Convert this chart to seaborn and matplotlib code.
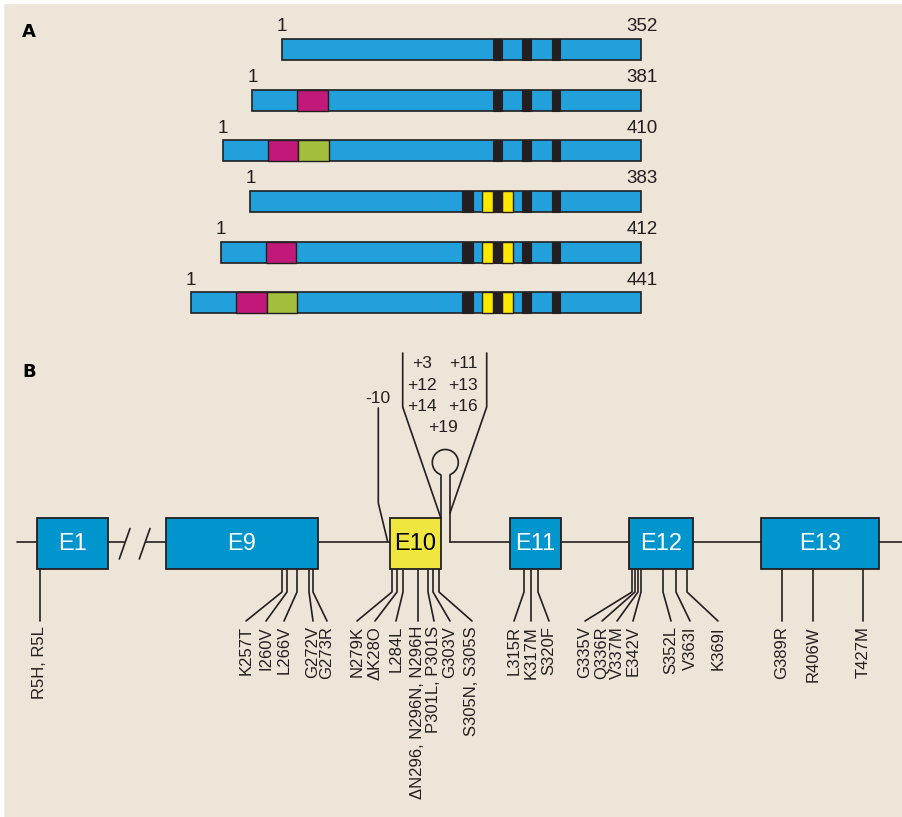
import numpy as np
import pandas as pd
import matplotlib
matplotlib.use("Agg")
import matplotlib.pyplot as plt
from matplotlib.patches import Arc, Rectangle
import seaborn as sns

# ---- panel A: tau isoforms ----
isoforms = ["0N3R", "1N3R", "2N3R", "0N4R", "1N4R", "2N4R"]
lengths = [352, 381, 410, 383, 412, 441]
n_inserts = [0, 1, 2, 0, 1, 2]
n_repeats = [3, 3, 3, 4, 4, 4]
# N-terminal inserts, residues counted from the N-terminus
exon2 = (44, 74)
exon3 = (74, 104)
# repeat separators and exon 10 region, residues counted back from the C-terminus
bands_3r = [(79, 87), (108, 117), (136, 145)]
band_r1 = (165, 175)
exon10_parts = [(125, 136), (145, 156)]

# ---- panel B: MAPT exons and mutations ----
exon_names = ["E1", "E9", "E10", "E11", "E12", "E13"]
exon_start = [37, 166, 390, 510, 629, 761]
exon_end = [108, 318, 441, 561, 693, 879]
mut_labels = ["R5H, R5L", "K257T", "I260V", "L266V", "G272V", "G273R",
              "N279K", "ΔK28O", "L284L", "ΔN296, N296N, N296H", "P301L, P301S",
              "G303V", "S305N, S305S", "L315R", "K317M", "S320F",
              "G335V", "Q336R", "V337M", "E342V", "S352L", "V363I", "K369I",
              "G389R", "R406W", "T427M"]
mut_site = [40, 282, 287, 297, 309, 313, 392, 397, 403, 418, 428, 433, 439,
            524, 531, 538, 632, 635, 638, 641, 663, 676, 687, 782, 813, 863]
mut_label_x = [40, 246, 266, 284, 313, 327, 357, 375, 396, 418, 434, 450, 472,
               514, 531, 549, 585, 602, 617, 633, 671, 690, 718, 782, 813, 863]
intron_labels = ["+3", "+11", "+12", "+13", "+14", "+16", "+19"]
intron_x = [422, 463, 422, 463, 422, 463, 443]
intron_y = [363, 363, 385, 385, 406, 406, 427]

BG = "#ECE5D8"
BLUE_A = "#21A0DB"
BLUE_B = "#0095CD"
PINK = "#C2187A"
GREEN = "#A2BE3C"
YELLOW_A = "#FFE800"
YELLOW_B = "#F0E640"
DARK = "#231F20"

sns.set_theme(style="white")
plt.rcParams["font.family"] = ["Liberation Sans", "DejaVu Sans"]

fig = plt.figure(figsize=(9.02, 8.17), dpi=100, facecolor=BG)
fig.add_artist(Rectangle((0, 0), 3 / 902, 1, transform=fig.transFigure, color="white", zorder=0))
fig.add_artist(Rectangle((0, 1 - 3 / 817), 1, 3 / 817, transform=fig.transFigure, color="white", zorder=0))

# panel B axes in diagram units (whole figure)
axb = fig.add_axes([0, 0, 1, 1])
axb.set_xlim(0, 902)
axb.set_ylim(817, 0)
axb.set_axis_off()

# panel A axes
top_frac = 340 / 817
axa = fig.add_axes([0, 1 - top_frac, 1, top_frac])
axa.patch.set_alpha(0)

df = pd.DataFrame({"isoform": isoforms, "neg_len": [-l for l in lengths]})
sns.barplot(data=df, x="neg_len", y="isoform", orient="h", color=BLUE_A,
            saturation=1, width=0.415, edgecolor=DARK, linewidth=1.2,
            errorbar=None, ax=axa)

h = 0.415
for i, L in enumerate(lengths):
    if n_inserts[i] >= 1:
        axa.barh(i, exon2[1] - exon2[0], left=-L + exon2[0], height=h,
                 color=PINK, edgecolor=DARK, linewidth=1.0, zorder=3)
    if n_inserts[i] == 2:
        axa.barh(i, exon3[1] - exon3[0], left=-L + exon3[0], height=h,
                 color=GREEN, edgecolor=DARK, linewidth=1.0, zorder=3)
    bands = list(bands_3r)
    if n_repeats[i] == 4:
        bands.append(band_r1)
        for a, b in exon10_parts:
            axa.barh(i, b - a, left=-b, height=h, color=YELLOW_A,
                     edgecolor=DARK, linewidth=1.0, zorder=3)
    for a, b in bands:
        axa.barh(i, b - a, left=-b, height=h, color=DARK,
                 edgecolor=DARK, linewidth=0.8, zorder=4)
    axa.text(-L, i - 0.445, "1", ha="center", va="center", fontsize=13.5, color=DARK)
    axa.text(16.7, i - 0.445, str(L), ha="right", va="center", fontsize=13.5, color=DARK)

axa.set_xlim(-641 / 1.02, 261 / 1.02)
axa.set_ylim(5.734, -0.977)
axa.set_xlabel("")
axa.set_ylabel("")
axa.set_xticks([])
axa.set_yticks([])
sns.despine(ax=axa, left=True, bottom=True)

fig.text(22 / 902, 1 - 32 / 817, "A", fontsize=13, fontweight="bold", color="black",
         ha="left", va="center", family="DejaVu Sans")
fig.text(22 / 902, 1 - 372 / 817, "B", fontsize=13, fontweight="bold", color="black",
         ha="left", va="center", family="DejaVu Sans")

# ---- panel B drawing ----
lw = 1.2
gy = 542
box_top, box_bot = 518, 569

# gene backbone
for x0, x1 in [(17, 37), (108, 124), (146, 166), (318, 390), (450, 510),
               (561, 629), (693, 761), (879, 902)]:
    axb.plot([x0, x1], [gy, gy], color=DARK, lw=lw)
# break marks
axb.plot([119.3, 130], [559, 528.5], color=DARK, lw=lw)
axb.plot([139.3, 150], [559, 528.5], color=DARK, lw=lw)

for name, s, e in zip(exon_names, exon_start, exon_end):
    fc = YELLOW_B if name == "E10" else BLUE_B
    tc = "black" if name == "E10" else "white"
    axb.barh((box_top + box_bot) / 2, e - s, left=s, height=box_bot - box_top,
             color=fc, edgecolor=DARK, linewidth=1.3, zorder=3)
    axb.text((s + e) / 2, (box_top + box_bot) / 2 + 1, name, ha="center", va="center",
             fontsize=17, color=tc, zorder=4)

# stem-loop of exon 10 / intron 10
axb.add_patch(Arc((445.3, 462.5), 26, 26, theta1=110, theta2=430, color=DARK, lw=lw))
axb.plot([440.8, 440.8], [474.5, box_top], color=DARK, lw=lw)
axb.plot([450, 450], [474.5, gy], color=DARK, lw=lw)

# -10 leader
axb.plot([378.3, 378.3, 387.5], [408, 503, 541], color=DARK, lw=lw)
axb.text(378, 398, "-10", ha="center", va="center", fontsize=12.5, color=DARK)
# intronic funnel
axb.plot([402.7, 402.7, 440.5], [353, 407, 517], color=DARK, lw=lw)
axb.plot([486.7, 486.7, 450], [353, 407, 513], color=DARK, lw=lw)
for lab, x, y in zip(intron_labels, intron_x, intron_y):
    axb.text(x, y, lab, ha="center", va="center", fontsize=12.5, color=DARK)

# coding mutations
for lab, sx, lx in zip(mut_labels, mut_site, mut_label_x):
    axb.plot([sx, sx, lx], [box_bot, 592, 621], color=DARK, lw=lw, zorder=2)
    axb.text(lx, 626, lab, rotation=90, ha="center", va="top", fontsize=12,
             color=DARK)

fig.savefig("out.png", dpi=100, facecolor=BG)
